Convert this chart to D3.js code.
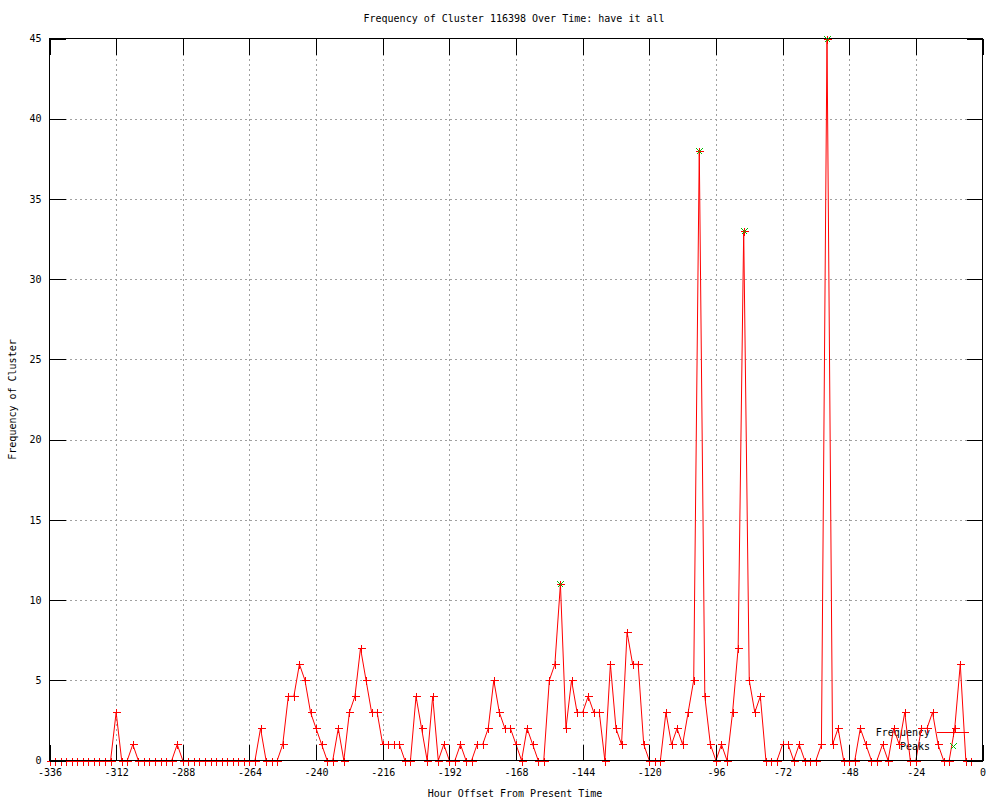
<!DOCTYPE html>
<html>
<head>
<meta charset="utf-8">
<script src="https://cdn.jsdelivr.net/npm/d3@7"></script>
<style>
  html, body { margin: 0; padding: 0; background: #fff; }
  text { font-family: "DejaVu Sans Mono", "Liberation Mono", monospace; font-size: 10px; fill: #000; }
</style>
</head>
<body>
<svg id="chart" width="1000" height="800"></svg>
<script>
// ---- Data ----
const title = "Frequency of Cluster 116398 Over Time: have it all";
const xLabel = "Hour Offset From Present Time";
const yLabel = "Frequency of Cluster";
const seriesNames = ["Frequency", "Peaks"];

// Hour offsets: every 2 hours from -336 to -4
const hours = d3.range(-336, -3, 2);
const frequency = [
  0,0,0,0,0,0,0,0,0,0,0,0,        // -336 .. -314
  3,0,0,1,                        // -312 .. -306
  0,0,0,0,0,0,0,                  // -304 .. -292
  1,                              // -290
  0,0,0,0,0,0,0,0,0,0,0,0,0,0,    // -288 .. -262
  2,0,0,0,                        // -260 .. -254
  1,4,4,6,5,3,2,1,0,0,2,0,        // -252 .. -230
  3,4,7,5,3,3,1,1,1,1,0,0,        // -228 .. -206
  4,2,0,4,0,1,0,0,1,0,0,1,        // -204 .. -182
  1,2,5,3,2,2,1,0,2,1,0,0,        // -180 .. -158
  5,6,11,2,5,3,3,4,3,3,0,6,       // -156 .. -134
  2,1,8,6,6,1,0,0,0,3,1,2,        // -132 .. -110
  1,3,5,38,4,1,0,1,0,3,7,33,      // -108 .. -86
  5,3,4,0,0,0,1,1,0,1,0,0,        // -84 .. -62
  0,1,45,1,2,0,0,0,2,1,0,0,       // -60 .. -38
  1,0,2,1,3,0,0,2,2,3,1,0,        // -36 .. -14
  0,2,6,0,0                       // -12 .. -4
];
const peakHours = [-152, -102, -86, -56];
const peakValues = [11, 38, 33, 45];

const xTicks = d3.range(-336, 1, 24);
const yTicks = d3.range(0, 46, 5);

// ---- Layout ----
const svg = d3.select("#chart");
const L = 49.5, R = 982.5, T = 38.5, B = 760.5;
const x = d3.scaleLinear().domain([-336, 0]).range([L, R]);
const y = d3.scaleLinear().domain([0, 45]).range([B, T]);
const tickLen = 16;
const red = "#ff0000", green = "#00c000";

svg.append("rect").attr("width", 1000).attr("height", 800).attr("fill", "#fff");

// grid
const grid = svg.append("g").attr("stroke", "#a0a0a0").attr("stroke-width", 1)
  .attr("stroke-dasharray", "2,3").attr("shape-rendering", "crispEdges");
xTicks.slice(1, -1).forEach(t => grid.append("line")
  .attr("x1", Math.round(x(t)) + 0.5).attr("x2", Math.round(x(t)) + 0.5).attr("y1", T).attr("y2", B));
yTicks.slice(1, -1).forEach(t => grid.append("line")
  .attr("y1", Math.round(y(t)) + 0.5).attr("y2", Math.round(y(t)) + 0.5).attr("x1", L).attr("x2", R));

// axis labels via d3
const xAxis = d3.axisBottom(x).tickValues(xTicks).tickSize(0).tickPadding(8);
const gx = svg.append("g").attr("transform", `translate(0,${B})`).call(xAxis);
gx.select(".domain").remove();
gx.selectAll("text").attr("font-family", "DejaVu Sans Mono").attr("font-size", 10).attr("fill", "#000")
  .text(d => String(d));

const yAxis = d3.axisLeft(y).tickValues(yTicks).tickSize(0).tickPadding(8);
const gy = svg.append("g").attr("transform", `translate(${L},0)`).call(yAxis);
gy.select(".domain").remove();
gy.selectAll("text").attr("font-family", "DejaVu Sans Mono").attr("font-size", 10).attr("fill", "#000");

// titles
svg.append("text").attr("x", 514).attr("y", 22).attr("text-anchor", "middle").text(title);
svg.append("text").attr("x", 515).attr("y", 797).attr("text-anchor", "middle").text(xLabel);
svg.append("text").attr("transform", `translate(16,${(T + B) / 2}) rotate(-90)`)
  .attr("text-anchor", "middle").text(yLabel);

// legend text
svg.append("text").attr("x", 930).attr("y", 736).attr("text-anchor", "end").text(seriesNames[0]);
svg.append("text").attr("x", 930).attr("y", 750).attr("text-anchor", "end").text(seriesNames[1]);

// Frequency line + points
const data = hours.map((h, i) => ({ h, v: frequency[i] }));
const line = d3.line().x(d => x(d.h)).y(d => y(d.v));
svg.append("path").datum(data).attr("d", line).attr("fill", "none").attr("stroke", red).attr("stroke-width", 1);

const plus = (g, cx, cy, s, color) => {
  g.append("path").attr("d", `M${cx - s},${cy}H${cx + s}M${cx},${cy - s}V${cy + s}`)
    .attr("stroke", color).attr("stroke-width", 1).attr("fill", "none");
};
const cross = (g, cx, cy, s, color) => {
  g.append("path").attr("d", `M${cx - s},${cy - s}L${cx + s},${cy + s}M${cx - s},${cy + s}L${cx + s},${cy - s}`)
    .attr("stroke", color).attr("stroke-width", 1).attr("fill", "none");
};
const pts = svg.append("g").attr("shape-rendering", "crispEdges");
data.forEach(d => plus(pts, Math.round(x(d.h)) + 0.5, Math.round(y(d.v)) + 0.5, 4, red));

// legend sample for Frequency
svg.append("line").attr("x1", 937).attr("x2", 969).attr("y1", 732.5).attr("y2", 732.5).attr("stroke", red);
plus(pts, 953.5, 732.5, 4, red);

// border and ticks drawn over the data
const tk = svg.append("g").attr("stroke", "#000").attr("stroke-width", 1).attr("shape-rendering", "crispEdges");
xTicks.forEach(t => {
  const px = Math.round(x(t)) + 0.5;
  tk.append("line").attr("x1", px).attr("x2", px).attr("y1", B).attr("y2", B - tickLen);
  tk.append("line").attr("x1", px).attr("x2", px).attr("y1", T).attr("y2", T + tickLen);
});
yTicks.forEach(t => {
  const py = Math.round(y(t)) + 0.5;
  tk.append("line").attr("y1", py).attr("y2", py).attr("x1", L).attr("x2", L + tickLen);
  tk.append("line").attr("y1", py).attr("y2", py).attr("x1", R).attr("x2", R - tickLen);
});
tk.append("rect").attr("x", L).attr("y", T).attr("width", R - L).attr("height", B - T).attr("fill", "none");

// Peaks
const pk = svg.append("g").attr("shape-rendering", "crispEdges");
peakHours.forEach((h, i) => cross(pk, Math.round(x(h)) + 0.5, Math.round(y(peakValues[i])) + 0.5, 3, green));
cross(pk, 953.5, 746.5, 3, green);
</script>
</body>
</html>
